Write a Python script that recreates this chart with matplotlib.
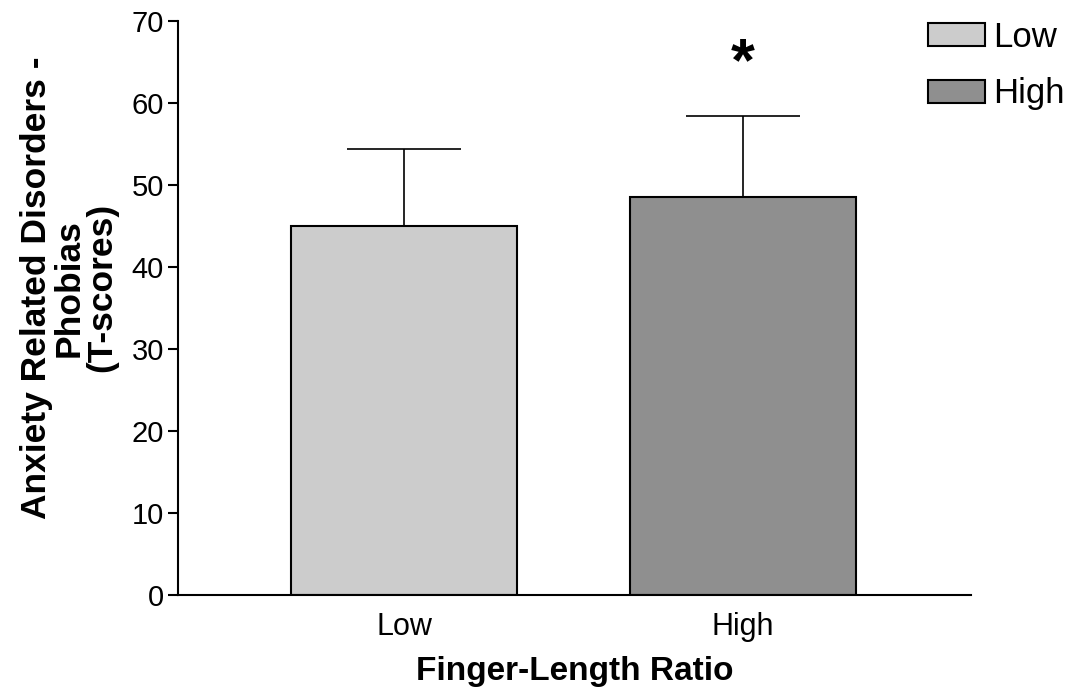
import matplotlib.pyplot as plt
from matplotlib.patches import Patch

plt.rcParams['font.family'] = ['Liberation Sans', 'DejaVu Sans']

groups = ['Low', 'High']
means = [45.0, 48.5]
sem_up = [9.4, 9.9]
colors = ['#cccccc', '#8f8f8f']

fig = plt.figure(figsize=(10.74, 6.94), dpi=100)
ax = fig.add_axes([0.1657, 0.1427, 0.7384, 0.827])

x = [0, 1]
ax.bar(x, means, width=0.667, color=colors, edgecolor='black', linewidth=1.5, zorder=2)
ax.errorbar(x, means, yerr=[[0, 0], sem_up], fmt='none', ecolor='black',
            elinewidth=1.2, capsize=41, capthick=1.2, zorder=1)

# significance marker
ax.text(1, means[1] + sem_up[1] + 6.3, '*', ha='center', va='center',
        fontsize=44, fontweight='bold')

ax.set_xlim(-0.667, 1.673)
ax.set_ylim(0, 70)
ax.set_yticks(range(0, 71, 10))
ax.set_xticks(x)
ax.set_xticklabels(groups)
ax.tick_params(axis='y', labelsize=21, length=7, width=1.5, pad=3)
ax.tick_params(axis='x', labelsize=22, length=0, pad=12)
for s in ['top', 'right']:
    ax.spines[s].set_visible(False)
for s in ['left', 'bottom']:
    ax.spines[s].set_linewidth(1.5)

ax.set_xlabel('Finger-Length Ratio', fontsize=24, fontweight='bold', labelpad=10)
ax.set_ylabel('Anxiety Related Disorders -\nPhobias\n(T-scores)', fontsize=25.5,
              fontweight='bold', linespacing=0.97)
ax.yaxis.set_label_coords(-0.0757, 0.535)

handles = [Patch(facecolor=c, edgecolor='black', linewidth=1.5) for c in colors]
fig.legend(handles, groups, loc='upper left', bbox_to_anchor=(0.864, 0.970),
           frameon=False, fontsize=25, handlelength=1.64, handleheight=0.66,
           handletextpad=0.25, labelspacing=0.68, borderpad=0, borderaxespad=0)

fig.savefig('out.png', dpi=100)
